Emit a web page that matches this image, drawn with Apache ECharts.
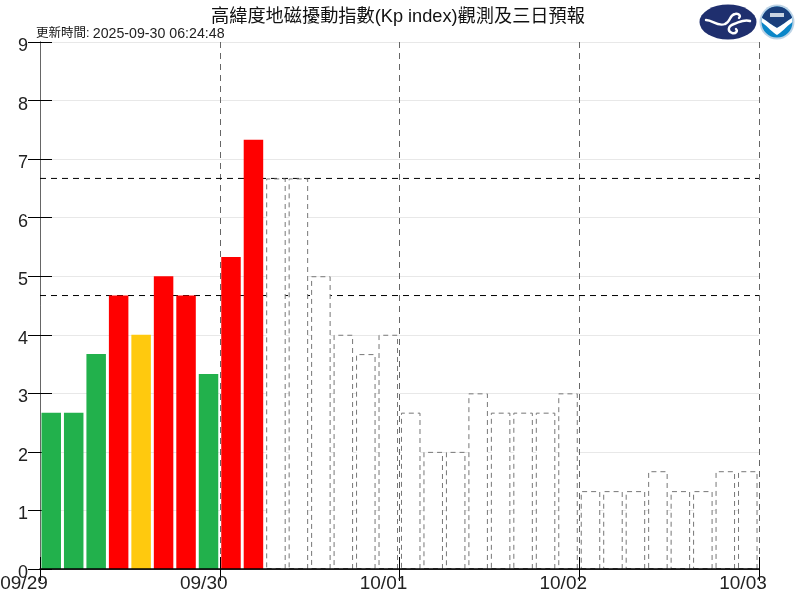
<!DOCTYPE html>
<html><head><meta charset="utf-8">
<style>html,body{margin:0;padding:0;background:#fff}#c{width:800px;height:600px}</style>
<script src="https://cdn.jsdelivr.net/npm/echarts@6/dist/echarts.min.js"></script>
</head><body><div id="c"></div>
<script>
const titleText = '高緯度地磁擾動指數(Kp index)觀測及三日預報';
const updateLabel = '更新時間:';
const updateTime = '2025-09-30 06:24:48';
const dayLabels = ['09/29','09/30','10/01','10/02','10/03'];
const observed = [2.67,2.67,3.67,4.67,4.0,5.0,4.67,3.33,5.33,7.33];
const forecast = [6.67,6.67,5,4,3.67,4,2.67,2,2,3,2.67,2.67,2.67,3,1.33,1.33,1.33,1.67,1.33,1.33,1.67,1.67];
const thresholds = [4.67,6.67];
const hoursPerBar = 3, hoursPerDay = 24, xMax = 96;
const FONT = '"Liberation Sans",Helvetica,Arial,sans-serif';
const CJK = '"Liberation Sans","Noto Sans CJK TC",sans-serif';

function colorOf(v){ return v < 4 ? '#22b14c' : v === 4 ? '#ffc90e' : '#ff0000'; }
const barData = [];
observed.forEach((v,i)=>barData.push({value:[(i+0.5)*hoursPerBar,v],itemStyle:{color:colorOf(v),borderWidth:0}}));
forecast.forEach((v,i)=>barData.push({value:[(i+observed.length+0.5)*hoursPerBar,v],
  itemStyle:{color:'#fff',borderColor:'#777',borderWidth:1,borderType:[5,4]}}));

const thresholdSeries = thresholds.map(t=>({
  type:'line',xAxisIndex:0,yAxisIndex:0,z:1,symbol:'none',silent:true,animation:false,
  lineStyle:{color:'#000',width:1,type:[6,5]},
  data:[[0,t],[xMax,t]]
}));

const cwaLogo = 'data:image/svg+xml;utf8,' + encodeURIComponent(
 '<svg xmlns="http://www.w3.org/2000/svg" width="58" height="36" viewBox="699 4 58 36">'+
 '<ellipse cx="728" cy="22" rx="28.5" ry="17.5" fill="#1f2f6e"/>'+
 '<g fill="none" stroke="#fff" stroke-width="2.4" stroke-linecap="round">'+
 '<path d="M706 20 C713 20 717 27 725 24 C731 22 729 15 735 14 C739 13 741 16 739 18"/>'+
 '<path d="M750 21 C744 19 740 22 734 24 C728 26 727 31 732 33 C736 34 738 31 736 29"/>'+
 '</g></svg>');
const noaaLogo = 'data:image/svg+xml;utf8,' + encodeURIComponent(
 '<svg xmlns="http://www.w3.org/2000/svg" width="36" height="36" viewBox="759 4 36 36">'+
 '<circle cx="777" cy="22" r="17.5" fill="#bcd3e6"/><circle cx="777" cy="22" r="15.5" fill="#0a86c8"/>'+
 '<path fill="#1a3f7c" d="M762 18 A15.5 15.5 0 0 1 792 18 C787 21 781 26 777 28 C773 26 767 21 762 18 Z"/>'+
 '<path fill="#fff" d="M762 18 C767 21 773 26 777 28 C781 26 787 21 792 18 L792.4 22 C786 27 781 33 777 35 C773 33 768 27 761.6 22 Z"/>'+
 '<rect x="770" y="13" width="14" height="4" fill="#c8d4e2"/></svg>');

const frame = '#666';
const chart = echarts.init(document.getElementById('c'),null,{renderer:'canvas'});
chart.setOption({
  animation:false,
  backgroundColor:'#fff',
  title:[{
    text:titleText,left:206,top:3,
    textStyle:{fontFamily:CJK,fontSize:18.2,fontWeight:'normal',color:'#111'}
  }],
  grid:{left:40,right:41,top:42,bottom:31,containLabel:false,outerBoundsMode:'none'},
  xAxis:[
    {type:'value',min:0,max:xMax,interval:hoursPerDay,position:'bottom',
     axisLine:{show:false},
     axisTick:{show:true,inside:true,length:12,lineStyle:{color:'#000',width:1}},
     splitLine:{show:true,lineStyle:{color:'#666',width:1,type:[6,5]}},
     axisLabel:{fontFamily:FONT,fontSize:19,color:'#222',margin:5,showMinLabel:true,showMaxLabel:true,
       hideOverlap:false,padding:[0,32,0,0],
       formatter:v=>dayLabels[v/hoursPerDay]}},
    {type:'value',min:0,max:xMax,interval:hoursPerDay,position:'top',
     axisLine:{show:true,lineStyle:{color:frame,width:1}},
     axisTick:{show:true,inside:true,length:12,lineStyle:{color:'#000',width:1}},
     splitLine:{show:false},axisLabel:{show:false}},
    {type:'value',min:0,max:xMax,position:'bottom',z:10,
     axisLine:{show:true,lineStyle:{color:'#000',width:1.5}},
     axisTick:{show:false},splitLine:{show:false},axisLabel:{show:false}}
  ],
  yAxis:[
    {type:'value',min:0,max:9,interval:1,position:'left',
     axisLine:{show:true,lineStyle:{color:frame,width:1}},
     axisTick:{show:true,inside:true,length:12,lineStyle:{color:'#000',width:1}},
     splitLine:{show:true,lineStyle:{color:'#e8e8e8',width:1}},
     axisLabel:{fontFamily:FONT,fontSize:18,color:'#222',margin:12,verticalAlign:'top',padding:[-5,0,0,0]}},
    {type:'value',min:0,max:9,interval:1,position:'right',
     axisLine:{show:true,lineStyle:{color:frame,width:1}},
     axisTick:{show:true,inside:true,length:12,lineStyle:{color:'#000',width:1}},
     splitLine:{show:false},axisLabel:{show:false}}
  ],
  series:[
    ...thresholdSeries,
    {type:'bar',xAxisIndex:0,yAxisIndex:0,z:3,barWidth:19.5,silent:true,animation:false,data:barData}
  ],
  graphic:[
    {type:'text',left:36,top:27,z:20,style:{
      text:'{a|'+updateLabel+'} {b|'+updateTime+'}',
      rich:{a:{fontFamily:CJK,fontSize:12.5,fill:'#111'},b:{fontFamily:FONT,fontSize:14.2,fill:'#222'}}}},
    {type:'image',z:20,left:699,top:4,style:{image:cwaLogo,width:58,height:36}},
    {type:'image',z:20,left:759,top:4,style:{image:noaaLogo,width:36,height:36}}
  ]
});
</script></body></html>
